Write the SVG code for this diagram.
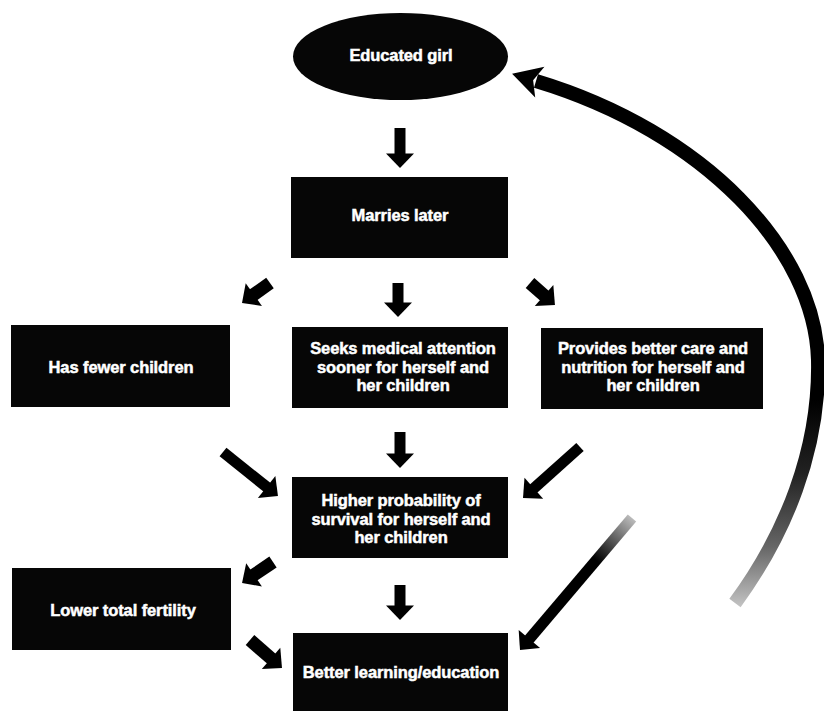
<svg xmlns="http://www.w3.org/2000/svg" width="824" height="711" viewBox="0 0 824 711">
<style>
  .box { fill: #060606; }
  .lbl { fill: #ffffff; stroke: #ffffff; stroke-width: 0.5px; font-family: "Liberation Sans", Arial, sans-serif; font-weight: bold; font-size: 16.5px; letter-spacing: -0.1px; text-anchor: middle; }
  .arr { fill: none; stroke: #000; stroke-width: 11; stroke-linecap: butt; marker-end: url(#head); }
  .arr.stub { stroke-width: 13; }
</style>
<defs>
  <marker id="head" markerUnits="userSpaceOnUse" viewBox="-2 -15 16 30" markerWidth="16" markerHeight="30" refX="0" refY="0" orient="auto" overflow="visible">
    <path d="M-1.5,-14 L13,0 L-1.5,14 Z" fill="#000"/>
  </marker>
  <marker id="bighead" markerUnits="userSpaceOnUse" viewBox="-6 -18 32 36" markerWidth="32" markerHeight="36" refX="0" refY="0" orient="auto" overflow="visible">
    <path d="M25,0 L-4,-16 L3,0 L-4,16 Z" fill="#000"/>
  </marker>
  <linearGradient id="arcFade" gradientUnits="userSpaceOnUse" x1="0" y1="400" x2="0" y2="610">
    <stop offset="0" stop-color="#000"/>
    <stop offset="0.35" stop-color="#222"/>
    <stop offset="0.7" stop-color="#666"/>
    <stop offset="1" stop-color="#c8c8c8"/>
  </linearGradient>
  <linearGradient id="tailFade" gradientUnits="userSpaceOnUse" x1="632" y1="518" x2="596" y2="560">
    <stop offset="0" stop-color="#bbb"/>
    <stop offset="1" stop-color="#000"/>
  </linearGradient>
</defs>

<g id="connectors">
  <path class="arr" d="M400,128 L400,155"/>
  <path class="arr stub" d="M270,283 L252.6,295.4"/>
  <path class="arr" d="M398,283 L398,304"/>
  <path class="arr stub" d="M530,283 L545.2,296.4"/>
  <path class="arr" d="M223,452 L267.8,487.9"/>
  <path class="arr" d="M400,432 L400,455"/>
  <path class="arr" d="M580,447 L532.7,489.3"/>
  <path class="arr stub" d="M273,562 L252.8,575.7"/>
  <path class="arr" d="M400,585 L400,607"/>
  <path class="arr stub" d="M250,640 L272.2,659.4"/>
  <path class="arr" style="stroke:url(#tailFade)" d="M632,518 L528.4,640.1"/>
  <path id="feedback" d="M735,603 C785,535 820,450 818,360 C815,250 705,132 536,81" fill="none" stroke="url(#arcFade)" stroke-width="14" marker-end="url(#bighead)"/>
</g>

<g id="educated-girl">
  <ellipse class="box" cx="400.5" cy="56.5" rx="107.5" ry="43.5"/>
  <text class="lbl" x="401" y="61">Educated girl</text>
</g>

<g id="marries-later">
  <rect class="box" x="291" y="177" width="217" height="81"/>
  <text class="lbl" x="400" y="221">Marries later</text>
</g>

<g id="has-fewer-children">
  <rect class="box" x="11" y="325" width="219" height="82"/>
  <text class="lbl" x="121" y="373">Has fewer children</text>
</g>

<g id="seeks-medical">
  <rect class="box" x="292" y="327" width="216" height="81"/>
  <text class="lbl" x="403" y="354">Seeks medical attention</text>
  <text class="lbl" x="403" y="372.5">sooner for herself and</text>
  <text class="lbl" x="403" y="391">her children</text>
</g>

<g id="provides-care">
  <rect class="box" x="541" y="328" width="222" height="81"/>
  <text class="lbl" x="653" y="354">Provides better care and</text>
  <text class="lbl" x="653" y="372.5">nutrition for herself and</text>
  <text class="lbl" x="653" y="391">her children</text>
</g>

<g id="higher-survival">
  <rect class="box" x="292" y="477" width="216" height="81"/>
  <text class="lbl" x="401" y="506">Higher probability of</text>
  <text class="lbl" x="401" y="524.5">survival for herself and</text>
  <text class="lbl" x="401" y="543">her children</text>
</g>

<g id="lower-fertility">
  <rect class="box" x="12" y="568" width="219" height="82"/>
  <text class="lbl" x="123" y="616">Lower total fertility</text>
</g>

<g id="better-learning">
  <rect class="box" x="293" y="633" width="215" height="78"/>
  <text class="lbl" x="401" y="678">Better learning/education</text>
</g>
</svg>
